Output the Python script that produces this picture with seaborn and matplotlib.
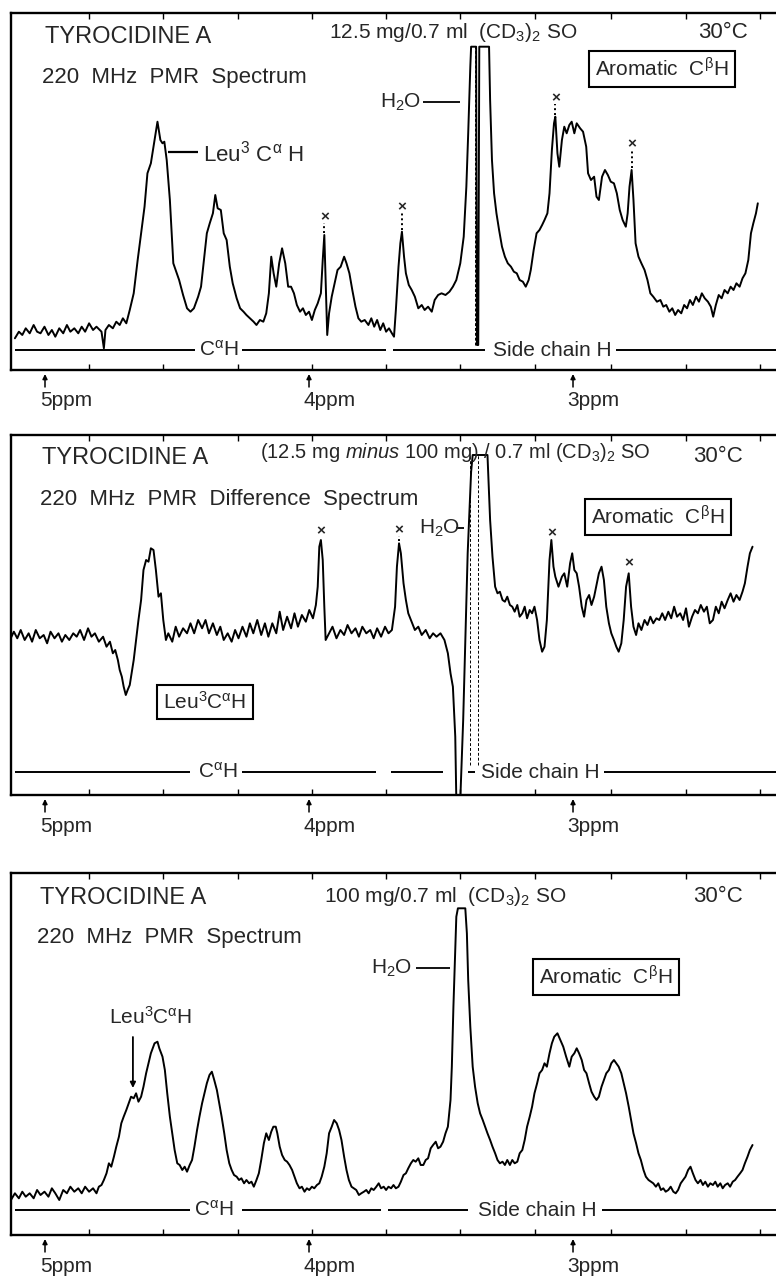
import matplotlib
matplotlib.use("Agg")
import matplotlib.pyplot as plt
import seaborn as sns
import pandas as pd
from matplotlib import font_manager

sns.set_style("white")
_names = {f.name for f in font_manager.fontManager.ttflist}
FONT = "Liberation Sans" if "Liberation Sans" in _names else "DejaVu Sans"
plt.rcParams["font.family"] = [FONT, "DejaVu Sans"]
plt.rcParams["mathtext.fontset"] = "custom"
plt.rcParams["mathtext.rm"] = FONT
plt.rcParams["mathtext.it"] = FONT + ":italic"
plt.rcParams["mathtext.bf"] = FONT + ":bold"
plt.rcParams["mathtext.default"] = "regular"

# ---------------- data (chemical shift in ppm, intensity in chart units) ----------------
p1_ppm = [5.114, 5.099, 5.086, 5.073, 5.058, 5.043, 5.030, 5.017, 5.002, 4.987,
          4.974, 4.961, 4.946, 4.931, 4.917, 4.904, 4.889, 4.874, 4.861, 4.848,
          4.833, 4.818, 4.805, 4.786, 4.777, 4.771, 4.758, 4.743, 4.730, 4.717,
          4.705, 4.692, 4.679, 4.664, 4.649, 4.636, 4.623, 4.612, 4.599, 4.585,
          4.574, 4.563, 4.555, 4.548, 4.539, 4.527, 4.514, 4.503, 4.492, 4.477,
          4.462, 4.449, 4.436, 4.420, 4.409, 4.398, 4.387, 4.376, 4.364, 4.355,
          4.346, 4.334, 4.323, 4.312, 4.300, 4.289, 4.274, 4.261, 4.248, 4.237,
          4.224, 4.210, 4.199, 4.186, 4.173, 4.162, 4.152, 4.143, 4.134, 4.124,
          4.113, 4.102, 4.090, 4.079, 4.068, 4.057, 4.046, 4.034, 4.023, 4.012,
          4.000, 3.989, 3.978, 3.967, 3.955, 3.948, 3.942, 3.937, 3.931, 3.924,
          3.914, 3.903, 3.892, 3.880, 3.867, 3.858, 3.847, 3.836, 3.824, 3.813,
          3.802, 3.789, 3.775, 3.764, 3.753, 3.742, 3.730, 3.719, 3.708, 3.697,
          3.686, 3.678, 3.671, 3.661, 3.654, 3.648, 3.640, 3.633, 3.622, 3.611,
          3.599, 3.586, 3.573, 3.562, 3.549, 3.535, 3.524, 3.511, 3.498, 3.483,
          3.468, 3.455, 3.442, 3.427, 3.414, 3.404, 3.397, 3.389, 3.386, 3.367,
          3.364, 3.359, 3.355, 3.318, 3.314, 3.307, 3.299, 3.290, 3.280, 3.269,
          3.258, 3.247, 3.235, 3.224, 3.213, 3.202, 3.190, 3.179, 3.168, 3.160,
          3.149, 3.138, 3.127, 3.117, 3.108, 3.097, 3.089, 3.080, 3.072, 3.067,
          3.059, 3.052, 3.042, 3.033, 3.024, 3.014, 3.005, 2.995, 2.986, 2.973,
          2.962, 2.950, 2.943, 2.932, 2.920, 2.911, 2.902, 2.890, 2.879, 2.868,
          2.857, 2.845, 2.834, 2.823, 2.812, 2.800, 2.793, 2.786, 2.778, 2.771,
          2.763, 2.752, 2.741, 2.729, 2.718, 2.707, 2.696, 2.682, 2.669, 2.658,
          2.647, 2.635, 2.624, 2.613, 2.602, 2.590, 2.579, 2.568, 2.557, 2.546,
          2.534, 2.523, 2.512, 2.501, 2.489, 2.478, 2.469, 2.459, 2.448, 2.437,
          2.426, 2.414, 2.403, 2.392, 2.381, 2.369, 2.358, 2.347, 2.336, 2.326,
          2.317, 2.307, 2.300]
p1_int = [31.7, 38.3, 35, 41.7, 36.7, 45, 38.3, 36.7, 43.3, 35,
          40, 33.3, 41.7, 36.7, 45, 38.3, 41.7, 36.7, 43.3, 38.3,
          46.7, 40, 43.3, 38.3, 21.7, 40, 45, 41.7, 48.3, 45,
          51.7, 46.7, 60, 76.7, 110, 136.7, 163.3, 196.7, 206.7, 230,
          248.3, 230, 226.7, 228.3, 210, 170, 106.7, 98.3, 90, 75,
          61.7, 58.3, 61.7, 73.3, 83.3, 110, 136.7, 146.7, 156.7, 175,
          161.7, 160, 136.7, 130, 103.3, 86.7, 71.7, 61.7, 58.3, 55,
          51.7, 48.3, 45, 50, 48.3, 56.7, 76.7, 113.3, 96.7, 83.3,
          106.7, 121.7, 106.7, 83.3, 83.3, 76.7, 65, 58.3, 61.7, 55,
          58.3, 50, 60, 66.7, 76.7, 110, 135, 90, 35, 56.7,
          73.3, 86.7, 100, 103.3, 113.3, 106.7, 96.7, 80, 63.3, 51.7,
          48.3, 50, 45, 51.7, 43.3, 50, 40, 46.7, 38.3, 41.7,
          36.7, 33.3, 60, 103.3, 126.7, 138.3, 113.3, 96.7, 85, 80,
          73.3, 61.7, 65, 60, 63.3, 58.3, 70, 75, 76.7, 75,
          78.3, 83.3, 90, 106.7, 133.3, 183.3, 236.7, 303.3, 323.3, 323.3,
          25, 25, 323.3, 323.3, 270, 210, 176.7, 156.7, 140, 123.3,
          113.3, 106.7, 103.3, 98.3, 96.7, 90, 88.3, 83.3, 90, 100,
          120, 136.7, 140, 145, 150, 156.7, 176.7, 220, 246.7, 253.3,
          216.7, 203.3, 230, 243.3, 236.7, 245, 248.3, 236.7, 246.7, 241.7,
          238.3, 223.3, 196.7, 190, 193.3, 173.3, 170, 193.3, 200, 195,
          188.3, 186.7, 176.7, 160, 150, 143.3, 156.7, 183.3, 200, 170,
          126.7, 113.3, 106.7, 100, 90, 76.7, 73.3, 68.3, 70, 63.3,
          65, 58.3, 61.7, 55, 60, 56.7, 65, 61.7, 70, 65,
          73.3, 68.3, 76.7, 71.7, 68.3, 63.3, 53.3, 65, 75, 71.7,
          80, 76.7, 83.3, 80, 86.7, 83.3, 91.7, 96.7, 110, 136.7,
          146.7, 156.7, 166.7]

p2_ppm = [5.133, 5.118, 5.105, 5.092, 5.077, 5.062, 5.049, 5.035, 5.020, 5.005,
          4.992, 4.979, 4.964, 4.949, 4.936, 4.923, 4.908, 4.893, 4.880, 4.867,
          4.852, 4.837, 4.824, 4.811, 4.796, 4.780, 4.767, 4.754, 4.743, 4.734,
          4.724, 4.717, 4.709, 4.702, 4.694, 4.687, 4.679, 4.672, 4.664, 4.655,
          4.646, 4.636, 4.627, 4.617, 4.608, 4.599, 4.589, 4.580, 4.570, 4.561,
          4.552, 4.542, 4.533, 4.518, 4.505, 4.492, 4.477, 4.462, 4.449, 4.435,
          4.420, 4.405, 4.392, 4.379, 4.364, 4.349, 4.336, 4.323, 4.308, 4.293,
          4.280, 4.267, 4.252, 4.237, 4.224, 4.211, 4.196, 4.181, 4.167, 4.154,
          4.139, 4.124, 4.111, 4.098, 4.083, 4.068, 4.055, 4.042, 4.027, 4.012,
          3.999, 3.985, 3.974, 3.967, 3.961, 3.955, 3.948, 3.942, 3.937, 3.924,
          3.911, 3.896, 3.881, 3.867, 3.854, 3.839, 3.824, 3.811, 3.798, 3.783,
          3.768, 3.755, 3.742, 3.727, 3.712, 3.699, 3.686, 3.674, 3.667, 3.659,
          3.652, 3.642, 3.633, 3.624, 3.614, 3.599, 3.586, 3.573, 3.558, 3.543,
          3.530, 3.517, 3.502, 3.487, 3.474, 3.464, 3.455, 3.446, 3.442, 3.427,
          3.416, 3.399, 3.386, 3.380, 3.324, 3.314, 3.305, 3.295, 3.286, 3.277,
          3.267, 3.258, 3.249, 3.239, 3.230, 3.221, 3.211, 3.202, 3.192, 3.183,
          3.174, 3.164, 3.155, 3.146, 3.136, 3.127, 3.117, 3.108, 3.099, 3.089,
          3.082, 3.074, 3.067, 3.055, 3.042, 3.033, 3.022, 3.011, 3.003, 2.995,
          2.986, 2.977, 2.967, 2.958, 2.949, 2.939, 2.930, 2.920, 2.911, 2.902,
          2.892, 2.883, 2.874, 2.864, 2.855, 2.845, 2.836, 2.827, 2.817, 2.808,
          2.799, 2.789, 2.780, 2.771, 2.761, 2.752, 2.741, 2.729, 2.718, 2.707,
          2.696, 2.684, 2.673, 2.662, 2.651, 2.639, 2.628, 2.617, 2.606, 2.594,
          2.583, 2.572, 2.561, 2.549, 2.538, 2.527, 2.516, 2.504, 2.493, 2.482,
          2.470, 2.459, 2.448, 2.437, 2.426, 2.414, 2.403, 2.392, 2.381, 2.369,
          2.358, 2.349, 2.339, 2.330, 2.320]
p2_int = [155, 163.3, 156.7, 165, 155, 161.7, 153.3, 165, 156.7, 160,
          151.7, 163.3, 156.7, 161.7, 153.3, 160, 155, 161.7, 158.3, 165,
          155, 166.7, 158.3, 161.7, 153.3, 158.3, 148.3, 153.3, 141.7, 145,
          135, 125, 118.3, 108.3, 100, 105, 110, 121.7, 135, 155,
          175, 195, 225, 235, 233.3, 246.7, 245, 225, 198.3, 201.7,
          175, 155, 161.7, 153.3, 168.3, 158.3, 166.7, 161.7, 171.7, 161.7,
          175, 166.7, 175, 161.7, 171.7, 160, 168.3, 155, 161.7, 153.3,
          165, 156.7, 168.3, 158.3, 171.7, 161.7, 175, 160, 171.7, 158.3,
          171.7, 161.7, 183.3, 165, 178.3, 166.7, 181.7, 168.3, 180, 173.3,
          185, 176.7, 190, 208.3, 248.3, 255, 235, 188.3, 155, 161.7,
          168.3, 156.7, 165, 160, 170, 161.7, 166.7, 158.3, 168.3, 161.7,
          165, 156.7, 166.7, 158.3, 168.3, 161.7, 165, 188.3, 228.3, 251.7,
          241.7, 211.7, 195, 181.7, 175, 165, 168.3, 160, 165, 156.7,
          161.7, 158.3, 161.7, 155, 141.7, 121.7, 108.3, 58.3, -5, -5,
          75, 241.7, 323, 340, 340, 275, 238.3, 208.3, 201.7, 203.3,
          195, 193.3, 198.3, 190, 188.3, 183.3, 190, 178.3, 181.7, 188.3,
          176.7, 185, 181.7, 188.3, 175, 155, 143.3, 148.3, 175, 235,
          255, 228.3, 218.3, 208.3, 218.3, 221.7, 208.3, 231.7, 241.7, 225,
          221.7, 208.3, 188.3, 178.3, 195, 200, 190, 198.3, 210, 221.7,
          228.3, 215, 188.3, 171.7, 161.7, 155, 148.3, 143.3, 151.7, 175,
          208.3, 221.7, 188.3, 168.3, 160, 171.7, 165, 175, 170, 178.3,
          171.7, 176.7, 175, 181.7, 175, 183.3, 176.7, 188.3, 178.3, 181.7,
          175, 186.7, 168.3, 178.3, 185, 181.7, 190, 183.3, 188.3, 171.7,
          175, 188.3, 181.7, 193.3, 186.7, 195, 201.7, 193.3, 200, 195,
          203.3, 211.7, 228.3, 241.7, 248.3]

p3_ppm = [5.142, 5.129, 5.114, 5.099, 5.086, 5.073, 5.058, 5.043, 5.030, 5.017,
          5.002, 4.987, 4.974, 4.961, 4.946, 4.931, 4.917, 4.904, 4.889, 4.874,
          4.861, 4.848, 4.833, 4.818, 4.805, 4.796, 4.786, 4.777, 4.767, 4.758,
          4.749, 4.739, 4.730, 4.720, 4.711, 4.702, 4.692, 4.683, 4.674, 4.664,
          4.655, 4.646, 4.636, 4.627, 4.617, 4.608, 4.599, 4.585, 4.574, 4.567,
          4.555, 4.546, 4.537, 4.527, 4.518, 4.509, 4.499, 4.490, 4.480, 4.471,
          4.462, 4.452, 4.443, 4.434, 4.424, 4.415, 4.405, 4.396, 4.387, 4.377,
          4.368, 4.359, 4.349, 4.340, 4.331, 4.321, 4.312, 4.302, 4.293, 4.284,
          4.274, 4.265, 4.256, 4.246, 4.237, 4.227, 4.218, 4.209, 4.199, 4.190,
          4.181, 4.171, 4.162, 4.152, 4.143, 4.135, 4.126, 4.120, 4.111, 4.102,
          4.092, 4.083, 4.074, 4.064, 4.055, 4.046, 4.036, 4.027, 4.017, 4.008,
          3.999, 3.989, 3.980, 3.970, 3.961, 3.952, 3.942, 3.933, 3.924, 3.914,
          3.905, 3.895, 3.886, 3.877, 3.867, 3.858, 3.849, 3.839, 3.830, 3.821,
          3.811, 3.802, 3.792, 3.783, 3.774, 3.764, 3.755, 3.745, 3.736, 3.727,
          3.717, 3.708, 3.699, 3.689, 3.680, 3.671, 3.661, 3.652, 3.642, 3.633,
          3.624, 3.614, 3.605, 3.596, 3.586, 3.577, 3.567, 3.558, 3.549, 3.539,
          3.530, 3.520, 3.511, 3.502, 3.492, 3.483, 3.474, 3.464, 3.459, 3.453,
          3.447, 3.442, 3.436, 3.408, 3.402, 3.397, 3.389, 3.380, 3.371, 3.361,
          3.352, 3.342, 3.333, 3.324, 3.314, 3.305, 3.295, 3.286, 3.277, 3.267,
          3.258, 3.249, 3.239, 3.230, 3.221, 3.211, 3.202, 3.192, 3.183, 3.174,
          3.164, 3.155, 3.146, 3.136, 3.127, 3.117, 3.108, 3.099, 3.089, 3.080,
          3.071, 3.059, 3.048, 3.037, 3.026, 3.014, 3.005, 2.995, 2.986, 2.977,
          2.967, 2.958, 2.949, 2.939, 2.930, 2.920, 2.911, 2.902, 2.892, 2.883,
          2.874, 2.864, 2.855, 2.845, 2.836, 2.827, 2.817, 2.808, 2.799, 2.789,
          2.780, 2.771, 2.761, 2.752, 2.743, 2.733, 2.724, 2.714, 2.705, 2.696,
          2.686, 2.677, 2.667, 2.658, 2.649, 2.639, 2.630, 2.620, 2.611, 2.602,
          2.592, 2.583, 2.574, 2.564, 2.555, 2.546, 2.536, 2.527, 2.517, 2.508,
          2.499, 2.489, 2.480, 2.470, 2.461, 2.452, 2.442, 2.433, 2.424, 2.414,
          2.405, 2.395, 2.386, 2.377, 2.367, 2.358, 2.349, 2.339, 2.330, 2.320]
p3_int = [40, 35, 41.7, 36.7, 43.3, 38.3, 41.7, 36.7, 45, 40,
          43.3, 38.3, 46.7, 41.7, 35, 45, 41.7, 48.3, 43.3, 46.7,
          41.7, 48.3, 43.3, 46.7, 41.7, 48.3, 50, 55, 61.7, 71.7,
          68.3, 78.3, 88.3, 98.3, 111.7, 118.3, 125, 131.7, 138.3, 136.7,
          141.7, 133.3, 138.3, 148.3, 161.7, 171.7, 181.7, 191.7, 193.3, 186.7,
          178.3, 165, 141.7, 118.3, 101.7, 85, 71.7, 70, 65, 68.3,
          63.3, 70, 75, 88.3, 105, 118.3, 131.7, 141.7, 151.7, 160,
          163.3, 155, 145, 131.7, 118.3, 101.7, 85, 71.7, 65, 60,
          58.3, 55, 56.7, 51.7, 55, 51.7, 53.3, 48.3, 55, 61.7,
          75, 91.7, 101.7, 95, 103.3, 108.3, 108.3, 101.7, 88.3, 80,
          75, 73.3, 70, 65, 58.3, 51.7, 46.7, 48.3, 43.3, 46.7,
          45, 48.3, 46.7, 50, 51.7, 58.3, 68.3, 81.7, 101.7, 108.3,
          115, 111.7, 105, 95, 78.3, 65, 55, 48.3, 46.7, 45,
          40, 41.7, 43.3, 45, 41.7, 46.7, 45, 48.3, 51.7, 46.7,
          48.3, 45, 48.3, 46.7, 50, 46.7, 48.3, 53.3, 60, 61.7,
          66.7, 71.7, 75, 73.3, 76.7, 70, 70, 75, 76.7, 86.7,
          90, 93.3, 86.7, 88.3, 93.3, 101.7, 108.3, 135, 168.3, 228.3,
          278.3, 318.3, 326.7, 326.7, 301.7, 255, 208.3, 168.3, 148.3, 131.7,
          121.7, 115, 108.3, 101.7, 95, 88.3, 81.7, 75, 71.7, 73.3,
          70, 75, 70, 75, 71.7, 73.3, 81.7, 85, 95, 108.3,
          118.3, 128.3, 141.7, 151.7, 161.7, 165, 171.7, 168.3, 181.7, 191.7,
          198.3, 201.7, 195, 188.3, 178.3, 168.3, 178.3, 181.7, 186.7, 181.7,
          175, 165, 161.7, 151.7, 143.3, 138.3, 135, 138.3, 148.3, 155,
          161.7, 165, 171.7, 175, 171.7, 168.3, 161.7, 151.7, 141.7, 128.3,
          115, 101.7, 91.7, 81.7, 75, 65, 58.3, 55, 53.3, 51.7,
          48.3, 51.7, 45, 46.7, 43.3, 45, 48.3, 43.3, 41.7, 45,
          51.7, 55, 58.3, 65, 68.3, 61.7, 55, 51.7, 55, 50,
          53.3, 48.3, 51.7, 50, 53.3, 48.3, 51.7, 46.7, 50, 51.7,
          48.3, 53.3, 55, 58.3, 61.7, 65, 71.7, 78.3, 85, 90]

# peaks marked with "x" (ppm, peak height, marker height)
p1_x_ppm = [3.942, 3.648, 3.067, 2.778]
p1_x_peak = [135, 138, 253, 200]
p1_x_mark = [153, 163, 272, 226]
p2_x_ppm = [3.955, 3.659, 3.082, 2.789]
p2_x_peak = [255, 252, 255, 222]
p2_x_mark = [264, 265, 262, 232]

shift_ticks = [5, 4, 3]
shift_labels = ["5ppm", "4ppm", "3ppm"]
paper_ticks = [4.833, 4.553, 4.269, 3.989, 3.708, 3.428, 3.144, 2.856, 2.572, 2.292]

# ---------------- figure ----------------
W, Hpx = 776, 1281
fig = plt.figure(figsize=(W / 100, Hpx / 100), dpi=100)
XL, XR = 5.1288, 2.1402
LEFT_PX, RIGHT_PX = 11, 800


def make_axes(top_px, bot_px, ppm, inten):
    ax = fig.add_axes([LEFT_PX / W, 1 - bot_px / Hpx, (RIGHT_PX - LEFT_PX) / W,
                       (bot_px - top_px) / Hpx])
    df = pd.DataFrame({"ppm": ppm, "I": inten})
    sns.lineplot(data=df, x="ppm", y="I", sort=False, estimator=None,
                 color="black", lw=1.4, ax=ax)
    ax.set_xlim(XL, XR)
    ax.set_ylim(0, bot_px - top_px)
    ax.set_xlabel("")
    ax.set_ylabel("")
    ax.set_yticks([])
    ax.set_xticks(shift_ticks)
    ax.set_xticklabels([])
    ax.set_xticks(paper_ticks, minor=True)
    ax.tick_params(axis="x", which="major", length=0)
    ax.tick_params(axis="x", which="minor", direction="in", length=4, width=1.0,
                   top=True, bottom=True, color="black")
    for s in ax.spines.values():
        s.set_linewidth(1.7)
        s.set_color("black")
    for t, lab in zip(shift_ticks, shift_labels):
        ax.annotate("", xy=(t, -4), xytext=(t, -17), annotation_clip=False,
                    arrowprops=dict(arrowstyle="-|>", lw=1.1, color="black",
                                    mutation_scale=7, shrinkA=0, shrinkB=0))
        ax.text(t + 0.02, -31, lab, ha="left", va="center", fontsize=15,
                clip_on=False)
    return ax


def region_line(ax, y, segs, cah_x, side_x):
    for a, b in segs:
        ax.hlines(y, a, b, color="black", lw=1.4)
    ax.text(cah_x, y, r"C$^{\alpha}$H", ha="center", va="center", fontsize=15)
    ax.text(side_x, y, "Side chain H", ha="center", va="center", fontsize=15)


def x_marks(ax, xs, peaks, marks):
    for x, p, m in zip(xs, peaks, marks):
        ax.text(x, m, "×", ha="center", va="center", fontsize=11, fontweight="bold")
        if m - p > 10:
            ax.plot([x, x], [p + 2, m - 6], ls=(0, (1, 1.5)), lw=1.4, color="black")


box = dict(boxstyle="square,pad=0.3", fc="white", ec="black", lw=1.5)

# ---- panel 1 ----
ax1 = make_axes(13, 370, p1_ppm, p1_int)
ax1.text(5.0, 333, "TYROCIDINE A", fontsize=17, va="center")
ax1.text(5.011, 293, "220  MHz  PMR  Spectrum", fontsize=16, va="center")
ax1.text(3.924, 337, r"12.5 mg/0.7 ml  (CD$_3$)$_2$ SO", fontsize=15, va="center")
ax1.text(2.527, 337, "30°C", fontsize=16, va="center")
ax1.text(2.663, 301, r"Aromatic  C$^{\beta}$H", fontsize=15, va="center",
         ha="center", bbox=box)
ax1.text(3.652, 268, r"H$_2$O", fontsize=15, va="center", ha="center")
ax1.hlines(268, 3.568, 3.428, color="black", lw=1.3)
ax1.hlines(218, 4.533, 4.420, color="black", lw=1.6)
ax1.text(4.402, 216, r"Leu$^3$ C$^{\alpha}$ H", fontsize=16, va="center")
ax1.vlines([3.371], 25, 323, colors="black", linestyles=(0, (3, 2)), lw=0.7)
region_line(ax1, 20, [(5.114, 4.430), (4.252, 3.708), (3.680, 3.333), (2.836, 2.10)],
            4.341, 3.080)
x_marks(ax1, p1_x_ppm, p1_x_peak, p1_x_mark)

# ---- panel 2 ----
ax2 = make_axes(435, 795, p2_ppm, p2_int)
ax2.text(5.011, 337, "TYROCIDINE A", fontsize=17, va="center")
ax2.text(5.019, 295, "220  MHz  PMR  Difference  Spectrum", fontsize=16, va="center")
ax2.text(4.186, 342, r"(12.5 mg $\it{minus}$ 100 mg) / 0.7 ml (CD$_3$)$_2$ SO",
         fontsize=14.5, va="center")
ax2.text(2.545, 338, "30°C", fontsize=16, va="center")
ax2.text(2.678, 278, r"Aromatic  C$^{\beta}$H", fontsize=15, va="center",
         ha="center", bbox=box)
ax2.text(4.394, 93, r"Leu$^3$C$^{\alpha}$H", fontsize=15, va="center",
         ha="center", bbox=box)
ax2.text(3.504, 267, r"H$_2$O", fontsize=15, va="center", ha="center")
ax2.hlines(267, 3.443, 3.412, color="black", lw=1.3)
ax2.vlines([3.389, 3.361], 30, 340, colors="black", linestyles=(0, (3, 2)), lw=0.7)
region_line(ax2, 23, [(5.114, 4.449), (4.252, 3.746), (3.689, 3.492),
                      (3.399, 3.371), (2.883, 2.10)], 4.346, 3.123)
x_marks(ax2, p2_x_ppm, p2_x_peak, p2_x_mark)

# ---- panel 3 ----
ax3 = make_axes(873, 1235, p3_ppm, p3_int)
ax3.text(5.019, 337, "TYROCIDINE A", fontsize=17, va="center")
ax3.text(5.030, 298, "220  MHz  PMR  Spectrum", fontsize=16, va="center")
ax3.text(3.943, 338, r"100 mg/0.7 ml  (CD$_3$)$_2$ SO", fontsize=15, va="center")
ax3.text(2.545, 338, "30°C", fontsize=16, va="center")
ax3.text(2.875, 258, r"Aromatic  C$^{\beta}$H", fontsize=15, va="center",
         ha="center", bbox=box)
ax3.text(3.689, 267, r"H$_2$O", fontsize=15, va="center", ha="center")
ax3.hlines(267, 3.595, 3.466, color="black", lw=1.3)
ax3.text(4.598, 218, r"Leu$^3$C$^{\alpha}$H", fontsize=15, va="center", ha="center")
ax3.annotate("", xy=(4.667, 147), xytext=(4.667, 198),
             arrowprops=dict(arrowstyle="-|>", lw=1.3, color="black",
                             mutation_scale=8, shrinkA=0, shrinkB=0))
region_line(ax3, 25, [(5.114, 4.449), (4.252, 3.727), (3.699, 3.399), (2.892, 2.10)],
            4.360, 3.136)

fig.savefig("out.png", dpi=100)
